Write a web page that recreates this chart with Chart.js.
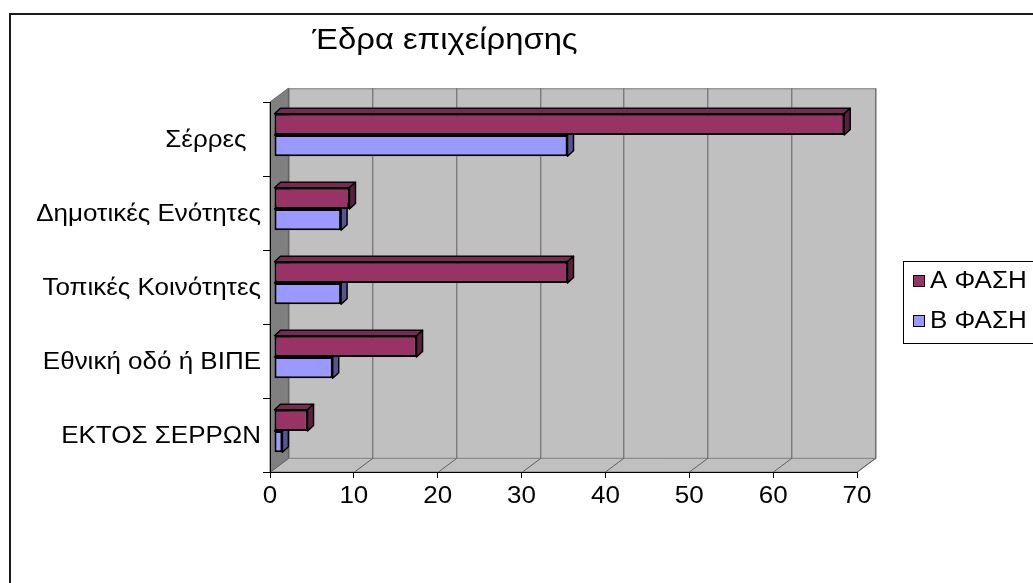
<!DOCTYPE html>
<html>
<head>
<meta charset="utf-8">
<script src="https://cdn.jsdelivr.net/npm/chart.js@4.4.1/dist/chart.umd.min.js"></script>
<style>
  html, body { margin: 0; padding: 0; background: #ffffff; overflow: hidden; }
  #wrap { width: 1033px; height: 583px; position: relative; }
</style>
</head>
<body>
<div id="wrap"><canvas id="c" width="1033" height="583"></canvas></div>
<script>
// Chart data
const chartTitle = 'Έδρα επιχείρησης';
const categories = ['Σέρρες  ', 'Δημοτικές Ενότητες', 'Τοπικές Κοινότητες', 'Εθνική οδό ή ΒΙΠΕ', 'ΕΚΤΟΣ ΣΕΡΡΩΝ'];
const seriesNames = ['Α ΦΑΣΗ', 'Β ΦΑΣΗ'];
const phaseA = [68, 9, 35, 17, 4];
const phaseB = [35, 8, 8, 7, 1];
const xTickValues = [0, 10, 20, 30, 40, 50, 60, 70];

// Styling
const FONT = '"Liberation Sans", Arial, sans-serif';
const TEXT_SX = 1.13;                     // wide lettering
const colorsFront = ['#993366', '#9999FF'];
const colorsTop = ['#7A2952', '#7A7ACC'];
const colorsSide = ['#5C1F3D', '#55558F'];
const WALL_DX = 18.3, WALL_DY = -13.7;   // depth of the box
const BAR_DX = 6, BAR_DY = -5.5;          // depth of each bar
const BAR_SHIFT_X = 4, BAR_SHIFT_Y = -4;  // bars sit slightly inside the box

function wideText(ctx, text, x, y, align) {
  ctx.save();
  ctx.translate(x, y);
  ctx.scale(TEXT_SX, 1);
  ctx.textAlign = align;
  ctx.fillText(text, 0, 0);
  ctx.restore();
}

const box3d = {
  id: 'box3d',
  beforeDraw(chart) {
    const ctx = chart.ctx;
    const xs = chart.scales.x;
    const a = chart.chartArea;
    ctx.save();
    ctx.fillStyle = '#ffffff';
    ctx.fillRect(0, 0, chart.width, chart.height);
    // outer frame
    ctx.strokeStyle = '#1a1a1a';
    ctx.lineWidth = 2;
    ctx.strokeRect(10, 14, chart.width + 20, chart.height + 20);

    const L = a.left, R = a.right, T = a.top, B = a.bottom;
    // back wall
    ctx.fillStyle = '#C0C0C0';
    ctx.fillRect(L + WALL_DX, T + WALL_DY, R - L, B - T);
    ctx.strokeStyle = '#808080';
    ctx.lineWidth = 1;
    ctx.strokeRect(L + WALL_DX + 0.5, T + WALL_DY + 0.5, R - L, B - T);
    // side wall
    ctx.beginPath();
    ctx.moveTo(L, T);
    ctx.lineTo(L + WALL_DX, T + WALL_DY);
    ctx.lineTo(L + WALL_DX, B + WALL_DY);
    ctx.lineTo(L, B);
    ctx.closePath();
    ctx.fillStyle = '#808080';
    ctx.fill();
    ctx.strokeStyle = '#6a6a6a';
    ctx.stroke();
    // floor
    ctx.beginPath();
    ctx.moveTo(L, B);
    ctx.lineTo(R, B);
    ctx.lineTo(R + WALL_DX, B + WALL_DY);
    ctx.lineTo(L + WALL_DX, B + WALL_DY);
    ctx.closePath();
    ctx.fillStyle = '#C0C0C0';
    ctx.fill();
    ctx.strokeStyle = '#808080';
    ctx.stroke();
    // gridlines on back wall and their floor diagonals
    ctx.strokeStyle = '#606060';
    ctx.lineWidth = 1;
    xTickValues.forEach(v => {
      const px = Math.round(xs.getPixelForValue(v)) + 0.5;
      ctx.beginPath();
      ctx.moveTo(px + WALL_DX, T + WALL_DY);
      ctx.lineTo(px + WALL_DX, B + WALL_DY);
      ctx.stroke();
      ctx.beginPath();
      ctx.moveTo(px, B);
      ctx.lineTo(px + WALL_DX, B + WALL_DY);
      ctx.stroke();
    });
    ctx.restore();
  },
  beforeDatasetsDraw(chart) {
    chart.ctx.save();
    chart.ctx.translate(BAR_SHIFT_X, BAR_SHIFT_Y);
  },
  afterDatasetDraw(chart, args) {
    const ctx = chart.ctx;
    const i = args.index;
    ctx.save();
    ctx.lineWidth = 1.5;
    ctx.strokeStyle = '#000000';
    ctx.lineJoin = 'round';
    args.meta.data.forEach(el => {
      const p = el.getProps(['x', 'y', 'base', 'height'], true);
      const left = Math.min(p.base, p.x), right = Math.max(p.base, p.x);
      const top = p.y - p.height / 2, bottom = p.y + p.height / 2;
      // top face
      ctx.beginPath();
      ctx.moveTo(left, top);
      ctx.lineTo(left + BAR_DX, top + BAR_DY);
      ctx.lineTo(right + BAR_DX, top + BAR_DY);
      ctx.lineTo(right, top);
      ctx.closePath();
      ctx.fillStyle = colorsTop[i];
      ctx.fill();
      ctx.stroke();
      // side face
      ctx.beginPath();
      ctx.moveTo(right, top);
      ctx.lineTo(right + BAR_DX, top + BAR_DY);
      ctx.lineTo(right + BAR_DX, bottom + BAR_DY);
      ctx.lineTo(right, bottom);
      ctx.closePath();
      ctx.fillStyle = colorsSide[i];
      ctx.fill();
      ctx.stroke();
    });
    ctx.restore();
  },
  afterDatasetsDraw(chart) {
    chart.ctx.restore();
  },
  afterDraw(chart) {
    const ctx = chart.ctx;
    const xs = chart.scales.x, ys = chart.scales.y;
    ctx.save();
    ctx.fillStyle = '#000000';
    ctx.textBaseline = 'middle';
    // axis labels
    ctx.font = '23px ' + FONT;
    chart.data.labels.forEach((lab, i) => {
      wideText(ctx, lab, ys.right - 9, ys.getPixelForValue(i) + 1.5, 'right');
    });
    xTickValues.forEach(v => {
      wideText(ctx, String(v), xs.getPixelForValue(v), 497, 'center');
    });
    // title
    ctx.font = '29px ' + FONT;
    wideText(ctx, chartTitle, 445, 41, 'center');
    // legend
    ctx.strokeStyle = '#000000';
    ctx.lineWidth = 1;
    ctx.strokeRect(903.5, 261.5, 200, 82);
    ctx.font = '23px ' + FONT;
    const rows = [281, 321];
    seriesNames.forEach((name, i) => {
      const y = rows[i];
      ctx.fillStyle = colorsFront[i];
      ctx.fillRect(913, y - 6, 12, 12);
      ctx.strokeRect(913.5, y - 5.5, 11, 11);
      ctx.fillStyle = '#000000';
      wideText(ctx, name, 930, y + 1, 'left');
    });
    ctx.restore();
  }
};

new Chart(document.getElementById('c'), {
  type: 'bar',
  data: {
    labels: categories,
    datasets: [
      { label: seriesNames[0], data: phaseA, backgroundColor: colorsFront[0] },
      { label: seriesNames[1], data: phaseB, backgroundColor: colorsFront[1] }
    ].map(d => Object.assign(d, {
      borderColor: '#000000', borderWidth: 2, borderSkipped: false,
      barPercentage: 1, categoryPercentage: 0.575, clip: false
    }))
  },
  options: {
    indexAxis: 'y',
    responsive: false,
    animation: false,
    devicePixelRatio: 1,
    layout: { padding: { left: 0, right: 176, top: 102, bottom: 0 } },
    plugins: { legend: { display: false }, title: { display: false }, tooltip: { enabled: false } },
    scales: {
      x: {
        type: 'linear', min: 0, max: 70,
        afterBuildTicks: s => { s.ticks = xTickValues.map(v => ({ value: v })); },
        afterFit: s => { s.height = 111; },
        ticks: { color: 'rgba(0,0,0,0)', font: { family: FONT, size: 22 }, padding: 6, maxRotation: 0 },
        grid: { drawOnChartArea: false, drawTicks: true, tickLength: 6, color: '#000' },
        border: { display: true, color: '#000', width: 1 }
      },
      y: {
        type: 'category',
        afterFit: s => { s.width = 270; },
        ticks: { color: 'rgba(0,0,0,0)', font: { family: FONT, size: 22 }, padding: 3, autoSkip: false },
        grid: { offset: true, drawOnChartArea: false, drawTicks: true, tickLength: 7, color: '#000' },
        border: { display: true, color: '#000', width: 1 }
      }
    }
  },
  plugins: [box3d]
});
</script>
</body>
</html>
